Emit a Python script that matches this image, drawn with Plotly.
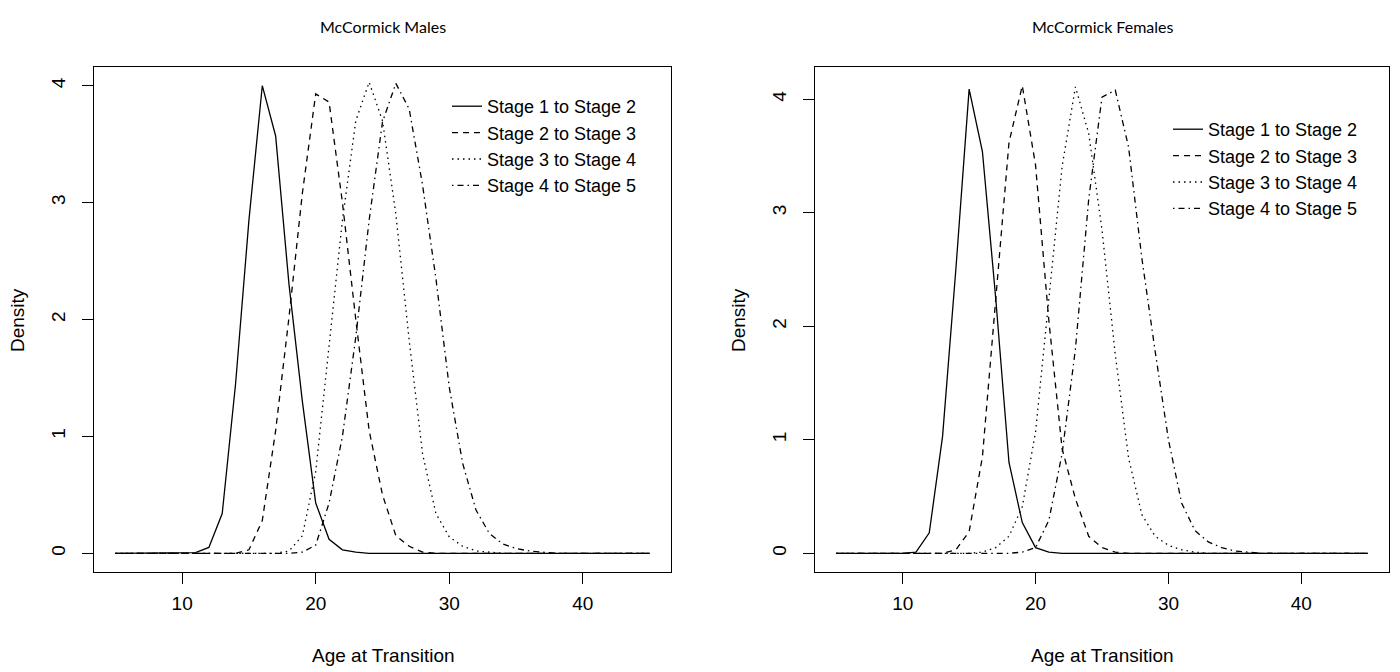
import plotly.graph_objects as go

ages = list(range(5, 46))

series_names = ["Stage 1 to Stage 2", "Stage 2 to Stage 3", "Stage 3 to Stage 4", "Stage 4 to Stage 5"]
dashes = ["solid", "6px,5px", "1.5px,4px", "1.5px,4px,6px,4px"]

# McCormick Males (ages 5..45)
males_s12 = [0, 0, 0, 0, 0, 0, 0.005, 0.05, 0.34, 1.45, 2.85, 4.0, 3.57, 2.3, 1.3, 0.43, 0.12, 0.03, 0.01, 0,
             0, 0, 0, 0, 0, 0, 0, 0, 0, 0, 0, 0, 0, 0, 0, 0, 0, 0, 0, 0, 0]
males_s23 = [0, 0, 0, 0, 0, 0, 0, 0, 0, 0, 0.03, 0.28, 1.05, 2.02, 3.08, 3.93, 3.86, 3.0, 2.0, 1.05,
             0.5, 0.15, 0.06, 0.01, 0, 0, 0, 0, 0, 0, 0, 0, 0, 0, 0, 0, 0, 0, 0, 0, 0]
males_s34 = [0, 0, 0, 0, 0, 0, 0, 0, 0, 0, 0, 0, 0, 0.02, 0.15, 0.7, 1.75, 2.85, 3.7, 4.03,
             3.7, 2.9, 1.82, 0.85, 0.34, 0.14, 0.06, 0.02, 0.01, 0, 0, 0, 0, 0, 0, 0, 0, 0, 0, 0, 0]
males_s45 = [0, 0, 0, 0, 0, 0, 0, 0, 0, 0, 0, 0, 0, 0, 0.01, 0.07, 0.43, 1.0, 1.85, 2.85,
             3.69, 4.02, 3.8, 3.15, 2.35, 1.42, 0.77, 0.37, 0.17, 0.08, 0.04, 0.02, 0.01, 0, 0, 0, 0, 0, 0, 0, 0]

# McCormick Females (ages 5..45)
females_s12 = [0, 0, 0, 0, 0, 0, 0.01, 0.18, 1.03, 2.5, 4.09, 3.54, 2.25, 0.8, 0.27, 0.05, 0.01, 0, 0, 0,
               0, 0, 0, 0, 0, 0, 0, 0, 0, 0, 0, 0, 0, 0, 0, 0, 0, 0, 0, 0, 0]
females_s23 = [0, 0, 0, 0, 0, 0, 0, 0, 0, 0.03, 0.19, 0.85, 2.2, 3.62, 4.12, 3.42, 2.05, 0.92, 0.48, 0.15,
               0.05, 0.01, 0, 0, 0, 0, 0, 0, 0, 0, 0, 0, 0, 0, 0, 0, 0, 0, 0, 0, 0]
females_s34 = [0, 0, 0, 0, 0, 0, 0, 0, 0, 0, 0, 0.01, 0.05, 0.15, 0.41, 1.07, 2.24, 3.41, 4.11, 3.7,
               2.85, 1.75, 0.84, 0.34, 0.15, 0.07, 0.03, 0.01, 0, 0, 0, 0, 0, 0, 0, 0, 0, 0, 0, 0, 0]
females_s45 = [0, 0, 0, 0, 0, 0, 0, 0, 0, 0, 0, 0, 0, 0, 0.01, 0.05, 0.29, 0.88, 1.8, 3.12,
               4.02, 4.08, 3.58, 2.6, 1.78, 1.0, 0.44, 0.2, 0.1, 0.05, 0.02, 0.01, 0, 0, 0, 0, 0, 0, 0, 0, 0]

x_ticks = [10, 20, 30, 40]
y_ticks = [0, 1, 2, 3, 4]

W, H = 1400, 672
FONT = "Liberation Sans, Arial, sans-serif"

fig = go.Figure()

panels = [
    ("x", "y", "legend", [males_s12, males_s23, males_s34, males_s45]),
    ("x2", "y2", "legend2", [females_s12, females_s23, females_s34, females_s45]),
]
for xa, ya, lg, data in panels:
    for name, vals, dash in zip(series_names, data, dashes):
        fig.add_trace(go.Scatter(
            x=ages, y=vals, mode="lines", name=name, xaxis=xa, yaxis=ya, legend=lg,
            line=dict(color="black", width=1.3, dash=dash),
            hoverinfo="x+y+name",
        ))

def px_x(p):
    return p / W

def px_y(p):
    return 1 - p / H

axis_common = dict(
    showline=True, linecolor="black", linewidth=1, mirror=True,
    showgrid=False, zeroline=False, ticks="outside", ticklen=11, tickwidth=1,
    tickcolor="black", tickfont=dict(family=FONT, size=19, color="black"),
)

fig.update_layout(
    width=W, height=H,
    margin=dict(l=0, r=0, t=0, b=0),
    paper_bgcolor="white", plot_bgcolor="white",
    xaxis=dict(domain=[px_x(94), px_x(671)], range=[3.4, 46.6], tickvals=x_ticks,
               ticklabelstandoff=3, anchor="y", **axis_common),
    yaxis=dict(domain=[px_y(572), px_y(67)], range=[-0.16, 4.16], tickvals=y_ticks,
               tickangle=-90, ticklabelstandoff=9, anchor="x", **axis_common),
    xaxis2=dict(domain=[px_x(815), px_x(1389)], range=[3.4, 46.6], tickvals=x_ticks,
                ticklabelstandoff=3, anchor="y2", **axis_common),
    yaxis2=dict(domain=[px_y(572), px_y(67)], range=[-0.165, 4.285], tickvals=y_ticks,
                tickangle=-90, ticklabelstandoff=9, anchor="x2", **axis_common),
    legend=dict(x=px_x(447), y=px_y(88), xanchor="left", yanchor="top",
                bgcolor="rgba(0,0,0,0)", borderwidth=0,
                font=dict(family=FONT, size=18, color="black"), itemwidth=30),
    legend2=dict(x=px_x(1168), y=px_y(111), xanchor="left", yanchor="top",
                 bgcolor="rgba(0,0,0,0)", borderwidth=0,
                 font=dict(family=FONT, size=18, color="black"), itemwidth=30),
)

titles = [("McCormick Males", 383), ("McCormick Females", 1103)]
for text, cx in titles:
    fig.add_annotation(text=text, x=px_x(cx), y=px_y(27), xref="paper", yref="paper",
                       showarrow=False, xanchor="center", yanchor="middle",
                       font=dict(family="Lato, Carlito, sans-serif", size=16, color="black"))

for cx in [383, 1102]:
    fig.add_annotation(text="Age at Transition", x=px_x(cx), y=px_y(655), xref="paper", yref="paper",
                       showarrow=False, xanchor="center", yanchor="middle",
                       font=dict(family=FONT, size=19, color="black"))

for cx in [17, 738]:
    fig.add_annotation(text="Density", x=px_x(cx), y=px_y(320), xref="paper", yref="paper",
                       showarrow=False, xanchor="center", yanchor="middle", textangle=-90,
                       font=dict(family=FONT, size=19, color="black"))

fig.write_html(
    "out.html",
    config={"displayModeBar": False},
    post_script="document.body.style.margin='0';document.body.style.overflow='hidden';",
)
